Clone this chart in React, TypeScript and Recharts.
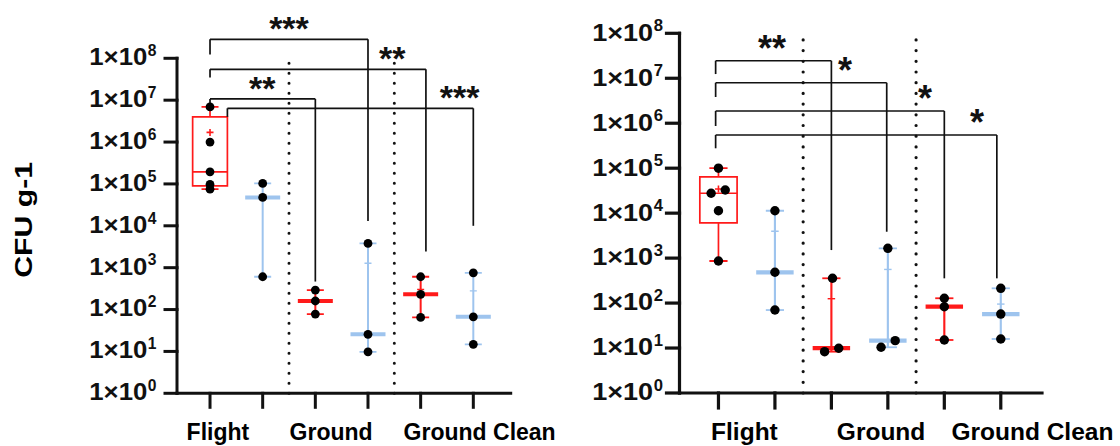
import React from "react";
import {
  ComposedChart,
  XAxis,
  YAxis,
  Scatter,
  ReferenceLine,
  ReferenceArea,
  ReferenceDot,
} from "recharts";

const FONT = "'Liberation Sans', Arial, Helvetica, sans-serif";
const RED = "#ff1a1a";
const BLUE = "#9ec4ee";
const INK = "#111111";

// shared categories / ticks
const groupX = [1, 2, 3, 4, 5, 6];
const groupLabels = ["Flight", "Ground", "Ground Clean"];
const yTicks = [1, 10, 100, 1e3, 1e4, 1e5, 1e6, 1e7, 1e8];
const separators = [2.5, 4.5];

// left panel values
const leftPtX = [1, 1, 1, 1, 1, 2, 2, 2, 3, 3, 3, 4, 4, 4, 5, 5, 5, 6, 6, 6];
const leftPtY = [
  6.9e6, 1.0e6, 1.95e5, 9.7e4, 7.5e4, 1.03e5, 4.76e4, 607, 292, 160, 78, 3800,
  25.6, 9.8, 607, 231, 65, 755, 67, 14.8,
];
const leftMin = [7.5e4, 607, 78, 9.8, 65, 14.8];
const leftMax = [6.9e6, 1.03e5, 292, 3800, 607, 755];
const leftMedian = [1.95e5, 4.76e4, 160, 25.6, 231, 67];
const leftMean = [1.7e6, 5.0e4, 181, 1280, 300, 280];
const leftQ1 = 9.0e4;
const leftQ3 = 4.0e6;
const leftLabelX = [1.15, 3.3, 6.12];
const leftBrackets = [
  { from: 1, fromEnd: 1.24e8, top: 2.84e8, to: 4, toEnd: 1.31e4, stars: "***", sx: 2.5, sy: 7.9e8 },
  { from: 1, fromEnd: 3.5e7, top: 5.46e7, to: 5.1, toEnd: 2420, stars: "**", sx: 4.46, sy: 1.51e8 },
  { from: 1, fromEnd: 7.2e6, top: 1.07e7, to: 3, toEnd: 466, stars: "**", sx: 1.99, sy: 2.92e7 },
  { from: 1.33, fromEnd: 4.0e6, top: 6.4e6, to: 6, toEnd: 1.0e4, stars: "***", sx: 5.74, sy: 1.75e7 },
];

// right panel values
const rightPtX = [1, 0.87, 1.12, 1, 1, 2, 2, 2, 3.02, 2.88, 3.13, 4, 4.13, 3.88, 5, 5, 5, 6, 6, 6];
const rightPtY = [
  1e5, 2.77e4, 3.27e4, 1.13e4, 863, 1.13e4, 484, 70, 356, 8.3, 9.9, 1652, 14.6,
  10.4, 128, 83, 15.1, 213, 57, 15.9,
];
const rightMin = [863, 70, 8.3, 10.4, 15.1, 15.9];
const rightMax = [1e5, 1.13e4, 356, 1652, 128, 213];
const rightMedian = [2.77e4, 484, 10, 14.6, 83, 57];
const rightMean = [3.45e4, 3950, 125, 560, 75, 95];
const rightQ1 = 6.1e3;
const rightQ3 = 6.4e4;
const rightLabelX = [1.46, 3.88, 6.56];
const rightBrackets = [
  { from: 0.95, fromEnd: 1.24e7, top: 2.45e7, to: 3, toEnd: 1510, stars: "**", sx: 1.95, sy: 6.84e7 },
  { from: 0.95, fromEnd: 3.83e6, top: 7.94e6, to: 3.98, toEnd: 3860, stars: "*", sx: 3.24, sy: 2.15e7 },
  { from: 0.95, fromEnd: 8.67e5, top: 1.87e6, to: 5, toEnd: 355, stars: "*", sx: 4.66, sy: 5.28e6 },
  { from: 0.95, fromEnd: 2.77e5, top: 5.47e5, to: 5.93, toEnd: 355, stars: "*", sx: 5.58, sy: 1.52e6 },
];

const colorOf = (g: number) => (g % 2 === 0 ? RED : BLUE);

function YTick(props: any) {
  const { x, y, payload, fs, len } = props;
  const exp = Math.round(Math.log10(payload.value));
  const sfs = fs * 0.68;
  const sw = sfs * 0.62;
  return (
    <g>
      <text
        x={x - sw}
        y={y + fs * 0.3}
        textAnchor="end"
        fontFamily={FONT}
        fontWeight={700}
        fontSize={fs}
        fill={INK}
        textLength={len}
        lengthAdjust="spacingAndGlyphs"
      >
        1×10
      </text>
      <text x={x - sw + 0.5} y={y - fs * 0.1} fontFamily={FONT} fontWeight={700} fontSize={sfs} fill={INK}>
        {exp}
      </text>
    </g>
  );
}

type PanelProps = {
  width: number;
  margin: { top: number; right: number; bottom: number; left: number };
  plotLeft: number;
  labelAxisHeight: number;
  k: number;
  xDomain: [number, number];
  ptX: number[];
  ptY: number[];
  mins: number[];
  maxs: number[];
  medians: number[];
  means: number[];
  q1: number;
  q3: number;
  labelX: number[];
  brackets: typeof leftBrackets;
  yFont: number;
  yLen: number;
  tickSize: number;
  tickMargin: number;
  labelFont: number;
  starFont: number;
  title?: boolean;
};

function Panel(p: PanelProps) {
  const k = p.k;
  const pts = p.ptX.map((x, i) => ({ x, y: p.ptY[i] }));
  const caps = groupX.flatMap((x, g) => [
    { x, y: p.mins[g], g },
    { x, y: p.maxs[g], g },
  ]);
  const meds = groupX.map((x, g) => ({ x, y: p.medians[g], g })).filter((d) => d.g !== 0);
  const avgs = groupX.map((x, g) => ({ x, y: p.means[g], g }));
  const axisStyle = { stroke: INK, strokeWidth: 3 * k, strokeLinecap: "square" as const };

  const hLine = (half: number, sw: number) => (sp: any) => (
    <line
      x1={sp.cx - half}
      x2={sp.cx + half}
      y1={sp.cy}
      y2={sp.cy}
      stroke={colorOf(sp.payload.g)}
      strokeWidth={sw}
    />
  );

  const meanShape = (sp: any) => {
    const g = sp.payload.g;
    if (g === 0) {
      return (
        <g stroke={RED} strokeWidth={1.6}>
          <line x1={sp.cx - 3.5} x2={sp.cx + 3.5} y1={sp.cy} y2={sp.cy} />
          <line x1={sp.cx} x2={sp.cx} y1={sp.cy - 3.5} y2={sp.cy + 3.5} />
        </g>
      );
    }
    return (
      <line x1={sp.cx - 3.5 * k} x2={sp.cx + 3.5 * k} y1={sp.cy} y2={sp.cy} stroke={colorOf(g)} strokeWidth={1.4} />
    );
  };

  const box = 0.33;

  return (
    <ComposedChart width={p.width} height={446} margin={p.margin}>
      <XAxis
        type="number"
        dataKey="x"
        domain={p.xDomain}
        allowDataOverflow
        ticks={groupX}
        interval={0}
        tickFormatter={() => ""}
        tickSize={14 * k}
        height={22}
        axisLine={axisStyle}
        tickLine={axisStyle}
      />
      <XAxis
        xAxisId="lab"
        type="number"
        dataKey="x"
        domain={p.xDomain}
        allowDataOverflow
        ticks={p.labelX}
        interval={0}
        tickFormatter={(_v: number, i: number) => groupLabels[i]}
        axisLine={false}
        tickLine={false}
        tickSize={0}
        tickMargin={8}
        height={p.labelAxisHeight}
        tick={{ fontSize: p.labelFont, fontWeight: 700, fill: "#000", fontFamily: FONT }}
      />
      <YAxis
        type="number"
        dataKey="y"
        scale="log"
        domain={[1, 1e8]}
        allowDataOverflow
        ticks={yTicks}
        interval={0}
        width={p.plotLeft}
        tickSize={p.tickSize}
        tickMargin={p.tickMargin}
        axisLine={axisStyle}
        tickLine={axisStyle}
        tick={(tp: any) => <YTick {...tp} fs={p.yFont} len={p.yLen} />}
        label={
          p.title
            ? {
                content: (lp: any) => {
                  const vb = lp.viewBox || { x: 0, y: 0, height: 0 };
                  const cx = vb.x + 32;
                  const cy = vb.y + vb.height / 2 - 6;
                  return (
                    <text
                      transform={`translate(${cx},${cy}) rotate(-90)`}
                      textAnchor="middle"
                      fontFamily={FONT}
                      fontWeight={700}
                      fontSize={24}
                      fill="#000"
                      textLength={116}
                      lengthAdjust="spacingAndGlyphs"
                    >
                      CFU g-1
                    </text>
                  );
                },
              }
            : undefined
        }
      />

      {separators.map((x) => (
        <ReferenceLine
          key={`sep-${x}`}
          segment={[
            { x, y: 1 },
            { x, y: 1e8 },
          ]}
          stroke={INK}
          strokeWidth={3 * k}
          strokeDasharray={`0 ${10 * k}`}
          strokeLinecap="round"
          ifOverflow="visible"
        />
      ))}

      {p.brackets.map((b, i) => (
        <React.Fragment key={`br-${i}`}>
          <ReferenceLine
            segment={[
              { x: b.from, y: b.fromEnd },
              { x: b.from, y: b.top },
            ]}
            stroke={INK}
            strokeWidth={1.7}
            ifOverflow="visible"
          />
          <ReferenceLine
            segment={[
              { x: b.from, y: b.top },
              { x: b.to, y: b.top },
            ]}
            stroke={INK}
            strokeWidth={1.7}
            ifOverflow="visible"
          />
          <ReferenceLine
            segment={[
              { x: b.to, y: b.top },
              { x: b.to, y: b.toEnd },
            ]}
            stroke={INK}
            strokeWidth={1.7}
            ifOverflow="visible"
          />
          <ReferenceDot
            x={b.sx}
            y={b.sy}
            r={0}
            ifOverflow="visible"
            shape={(sp: any) => (
              <text
                x={sp.cx}
                y={sp.cy}
                dy="0.56em"
                textAnchor="middle"
                fontFamily={FONT}
                fontWeight={700}
                fontSize={p.starFont}
                fill={INK}
              >
                {b.stars}
              </text>
            )}
          />
        </React.Fragment>
      ))}

      {/* box for the first group */}
      <ReferenceArea
        x1={1 - box}
        x2={1 + box}
        y1={p.q1}
        y2={p.q3}
        fill="none"
        stroke={RED}
        strokeWidth={1.7}
        fillOpacity={0}
        ifOverflow="visible"
      />
      <ReferenceLine
        segment={[
          { x: 1, y: p.q3 },
          { x: 1, y: p.maxs[0] },
        ]}
        stroke={RED}
        strokeWidth={1.7}
        ifOverflow="visible"
      />
      <ReferenceLine
        segment={[
          { x: 1, y: p.mins[0] },
          { x: 1, y: p.q1 },
        ]}
        stroke={RED}
        strokeWidth={1.7}
        ifOverflow="visible"
      />
      <ReferenceLine
        segment={[
          { x: 1 - box, y: p.medians[0] },
          { x: 1 + box, y: p.medians[0] },
        ]}
        stroke={RED}
        strokeWidth={1.7}
        ifOverflow="visible"
      />

      {/* min to max lines */}
      {groupX.slice(1).map((x, i) => (
        <ReferenceLine
          key={`rng-${x}`}
          segment={[
            { x, y: p.mins[i + 1] },
            { x, y: p.maxs[i + 1] },
          ]}
          stroke={colorOf(i + 1)}
          strokeWidth={2 * k}
          ifOverflow="visible"
        />
      ))}

      <Scatter data={caps} isAnimationActive={false} shape={hLine(8.5 * k, 1.8)} />
      <Scatter data={meds} isAnimationActive={false} shape={hLine(17.5 * k, 4 * k)} />
      <Scatter data={avgs} isAnimationActive={false} shape={meanShape} />
      <Scatter
        data={pts}
        isAnimationActive={false}
        shape={(sp: any) => <circle cx={sp.cx} cy={sp.cy} r={4.4 * k} fill="#000" />}
      />
    </ComposedChart>
  );
}

export default function App() {
  return (
    <div style={{ position: "absolute", left: 0, top: 0, width: 1120, height: 446, background: "#fff" }}>
      <div style={{ position: "absolute", left: 0, top: 0 }}>
        <Panel
          width={600}
          margin={{ top: 58.3, right: 89.3, bottom: 0, left: 0 }}
          plotLeft={177}
          labelAxisHeight={30.7}
          k={1}
          xDomain={[0.373, 6.71]}
          ptX={leftPtX}
          ptY={leftPtY}
          mins={leftMin}
          maxs={leftMax}
          medians={leftMedian}
          means={leftMean}
          q1={leftQ1}
          q3={leftQ3}
          labelX={leftLabelX}
          brackets={leftBrackets}
          yFont={23}
          yLen={58}
          tickSize={12}
          tickMargin={8}
          labelFont={23}
          starFont={34}
          title
        />
      </div>
      <div style={{ position: "absolute", left: 560, top: 0 }}>
        <Panel
          width={560}
          margin={{ top: 33.3, right: 78, bottom: 0, left: 0 }}
          plotLeft={119.5}
          labelAxisHeight={31}
          k={1.07}
          xDomain={[0.31, 6.73]}
          ptX={rightPtX}
          ptY={rightPtY}
          mins={rightMin}
          maxs={rightMax}
          medians={rightMedian}
          means={rightMean}
          q1={rightQ1}
          q3={rightQ3}
          labelX={rightLabelX}
          brackets={rightBrackets}
          yFont={24.5}
          yLen={61}
          tickSize={13}
          tickMargin={3}
          labelFont={24.5}
          starFont={36}
        />
      </div>
    </div>
  );
}
